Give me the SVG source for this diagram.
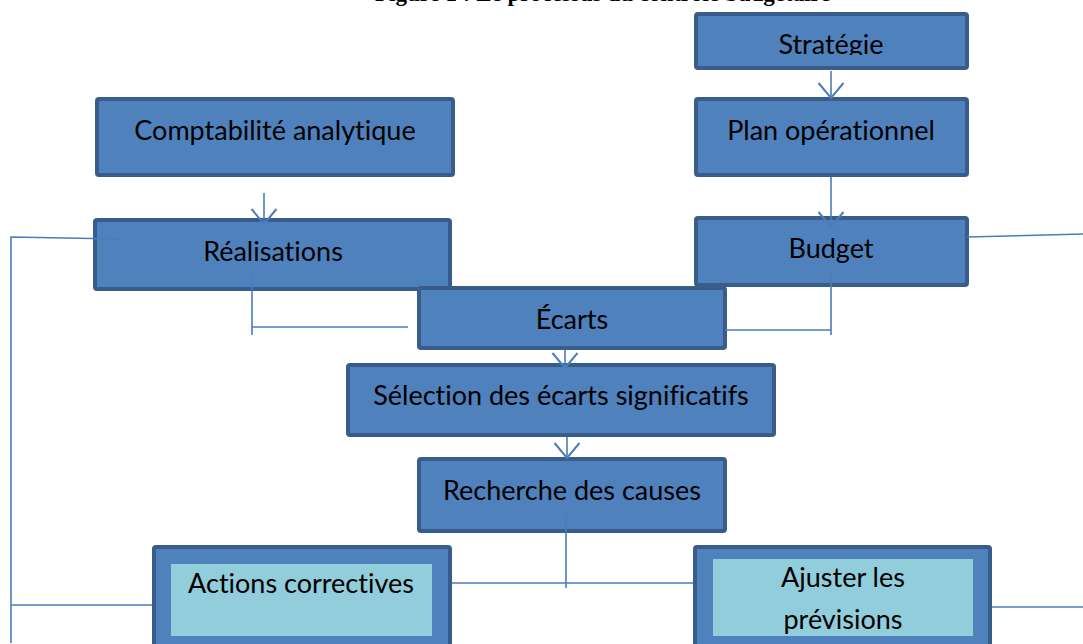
<svg xmlns="http://www.w3.org/2000/svg" width="1083" height="644" viewBox="0 0 1083 644">
  <style>
    .box { fill: #4F81BD; stroke: #385D8A; stroke-width: 4; }
    .inner { fill: #92CDDC; stroke: none; }
    .lbl { font-family: Lato, "Liberation Sans", sans-serif; font-size: 27px; fill: #000; text-anchor: middle; font-variant-ligatures: none; }
    .wire { fill: none; stroke: #4A7EBB; stroke-width: 1.6; }
    .title { font-family: "Liberation Serif", serif; font-weight: bold; font-size: 23px; fill: #000; }
  </style>
  <defs>
    <marker id="vhead" markerUnits="userSpaceOnUse" markerWidth="30" markerHeight="30" viewBox="-14 -12 16 24" refX="0" refY="0" orient="auto">
      <path d="M -12 -10 L 0 0 L -12 10" fill="none" stroke="#4A7EBB" stroke-width="1.6"/>
    </marker>
    <clipPath id="clipStrat">
      <rect x="694" y="12" width="275" height="43"/>
    </clipPath>
  </defs>

  <rect width="1083" height="644" fill="#fff"/>

  <!-- heading, mostly cut off by the page edge -->
  <text class="title" x="375" y="1">Figure 1 : Le processus du contrôle budgétaire</text>

  <g id="strategie">
    <rect class="box" x="696" y="14" width="271" height="54" rx="2"/>
    <text class="lbl" x="831" y="54" clip-path="url(#clipStrat)">Stratégie</text>
  </g>

  <g id="plan">
    <rect class="box" x="696" y="99" width="271" height="76" rx="2"/>
    <text class="lbl" x="831" y="140">Plan opérationnel</text>
  </g>

  <g id="comptabilite">
    <rect class="box" x="97" y="99" width="356" height="76" rx="2"/>
    <text class="lbl" x="275" y="140">Comptabilité analytique</text>
  </g>

  <g id="realisations">
    <rect class="box" x="95" y="220" width="355" height="69" rx="2"/>
    <text class="lbl" x="273" y="261">Réalisations</text>
  </g>

  <g id="budget">
    <rect class="box" x="696" y="218" width="271" height="67" rx="2"/>
    <text class="lbl" x="831" y="258">Budget</text>
  </g>

  <g id="ecarts">
    <rect class="box" x="419" y="288" width="306" height="60" rx="2"/>
    <text class="lbl" x="572" y="329">Écarts</text>
  </g>

  <g id="selection">
    <rect class="box" x="348" y="365" width="426" height="70" rx="2"/>
    <text class="lbl" x="561" y="405">Sélection des écarts significatifs</text>
  </g>

  <g id="recherche">
    <rect class="box" x="419" y="459" width="306" height="72" rx="2"/>
    <text class="lbl" x="572" y="500">Recherche des causes</text>
  </g>

  <g id="actions">
    <rect class="box" x="154" y="547" width="296" height="120" rx="2"/>
    <rect class="inner" x="171" y="564" width="261" height="72"/>
    <text class="lbl" x="301" y="593">Actions correctives</text>
  </g>

  <g id="ajuster">
    <rect class="box" x="695" y="547" width="295" height="120" rx="2"/>
    <rect class="inner" x="713" y="559" width="260" height="77"/>
    <text class="lbl" x="843" y="587">Ajuster les</text>
    <text class="lbl" x="843" y="629">prévisions</text>
  </g>

  <g id="connectors">
    <!-- straight arrows down the chain -->
    <path class="wire" d="M831,71 L831,98" marker-end="url(#vhead)"/>
    <path class="wire" d="M264,193 L264,224" marker-end="url(#vhead)"/>
    <path class="wire" d="M831,177 L831,227" marker-end="url(#vhead)"/>
    <path class="wire" d="M565,350 L565,368" marker-end="url(#vhead)"/>
    <path class="wire" d="M567,437 L567,458" marker-end="url(#vhead)"/>

    <!-- actual and budget brackets feeding the variances -->
    <path class="wire" d="M252,272 L252,335 M252,327 L408,327"/>
    <path class="wire" d="M831,272 L831,335 M725,330 L831,330"/>

    <!-- split from cause analysis to the two responses -->
    <path class="wire" d="M566,513 L566,588 M452,583 L693,583"/>

    <!-- feedback loops on each side -->
    <path class="wire" d="M120,239 L11,237 L11,643 M11,605 L152,605"/>
    <path class="wire" d="M967,237 L1083,234"/>
    <path class="wire" d="M992,607 L1083,607"/>
  </g>
</svg>
